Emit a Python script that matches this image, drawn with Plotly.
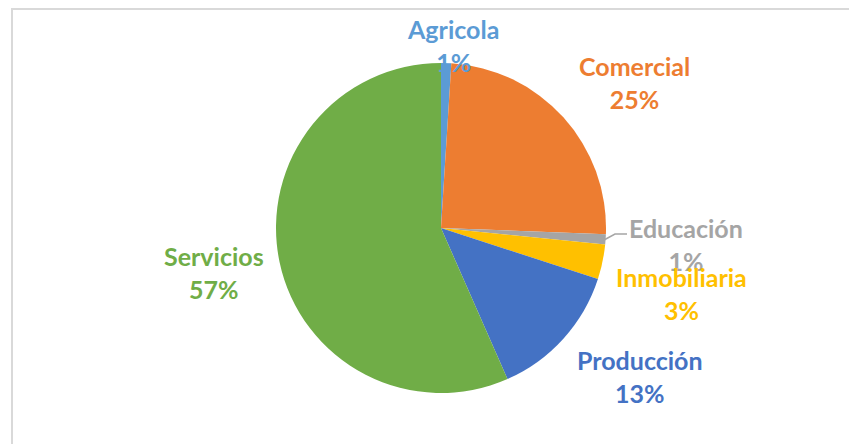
import plotly.graph_objects as go

# ---- data ----
categories = ["Agricola", "Comercial", "Educación", "Inmobiliaria", "Producción", "Servicios"]
values = [1.0, 24.6, 1.0, 3.4, 13.4, 56.6]
colors = ["#5B9BD5", "#ED7D31", "#A5A5A5", "#FFC000", "#4472C4", "#70AD47"]

# ---- layout helpers (pixel positions of the label blocks, in window pixels) ----
W, H = 857, 444
OFF = 8  # page body margin offset
label_px = [(453, 45), (634, 83), (686, 244), (681, 293), (640, 376), (214, 272)]


def px(x):
    return (x - OFF) / W


def py(y):
    return 1 - (y - OFF) / H


total = sum(values)
pcts = [f"{round(v / total * 100):.0f}%" for v in values]

cx, cy, r = 441, 228, 165

fig = go.Figure(
    go.Pie(
        labels=categories,
        values=values,
        marker=dict(colors=colors, line=dict(width=0)),
        sort=False,
        direction="clockwise",
        rotation=0,
        textinfo="none",
        hoverinfo="label+percent",
        domain=dict(x=[px(cx - r), px(cx + r)], y=[py(cy + r), py(cy - r)]),
        showlegend=False,
    )
)

annotations = []
for cat, pct, col, (lx, ly) in zip(categories, pcts, colors, label_px):
    annotations.append(
        dict(
            x=px(lx), y=py(ly), xref="paper", yref="paper",
            text=f"<b>{cat}<br>{pct}</b>",
            showarrow=False, xanchor="center", yanchor="middle",
            font=dict(family="Lato", size=25, color=col),
            align="center",
        )
    )

shapes = [
    dict(type="rect", xref="paper", yref="paper",
         x0=px(12), x1=1.05, y0=-0.05, y1=py(9),
         line=dict(color="#D9D9D9", width=2), fillcolor="rgba(0,0,0,0)", layer="below"),
    dict(type="path", xref="paper", yref="paper",
         path=f"M {px(604)} {py(240)} L {px(615)} {py(234)} L {px(627)} {py(234)}",
         line=dict(color="#A5A5A5", width=1.5)),
]

fig.update_layout(
    width=W, height=H,
    margin=dict(l=0, r=0, t=0, b=0),
    paper_bgcolor="white", plot_bgcolor="white",
    annotations=annotations, shapes=shapes,
)

fig.write_html("out.html")
